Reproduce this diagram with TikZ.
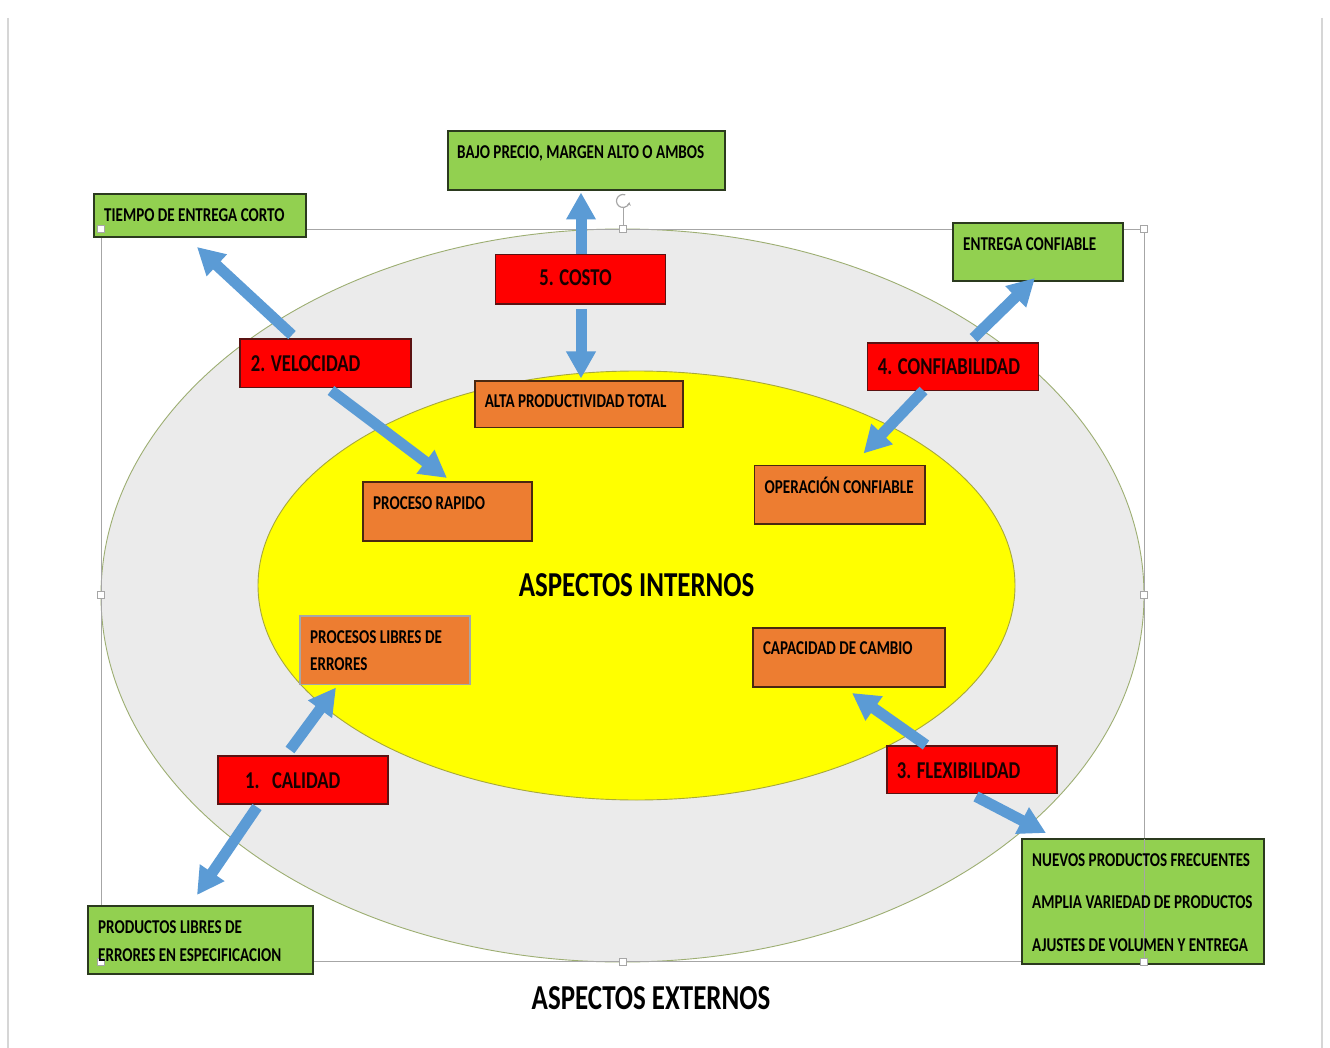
\documentclass[tikz,border=0pt]{standalone}
\usepackage{fontspec}
\setmainfont{Carlito}[FakeStretch=0.77]
\usetikzlibrary{arrows.meta,calc}

\definecolor{gfill}{HTML}{92D050}
\definecolor{gline}{HTML}{2B3A1E}
\definecolor{rfill}{HTML}{FF0000}
\definecolor{rline}{HTML}{5A1212}
\definecolor{ofill}{HTML}{ED7D31}
\definecolor{oline}{HTML}{4A2810}
\definecolor{ablue}{HTML}{5B9BD5}
\definecolor{ringfill}{HTML}{EBEBEB}
\definecolor{ringline}{HTML}{9DAE72}
\definecolor{corefill}{HTML}{FFFF00}
\definecolor{coreline}{HTML}{A7A83C}
\definecolor{selgrey}{HTML}{A6A6A6}
\definecolor{pagegrey}{HTML}{D6D6D6}

\begin{document}
\begin{tikzpicture}[x=1pt,y=-1pt,
  box/.style={draw, line width=1.1pt, inner sep=0pt, outer sep=0pt},
  gbox/.style={box, fill=gfill, draw=gline},
  rbox/.style={box, fill=rfill, draw=rline},
  obox/.style={box, fill=ofill, draw=oline},
  lbl/.style={anchor=base west, inner sep=0pt, font=\bfseries\fontsize{19.6}{22}\selectfont},
  rlbl/.style={anchor=base west, inner sep=0pt, text=black!90!red, font=\bfseries\fontsize{24.2}{28}\selectfont},
  biglbl/.style={anchor=base, inner sep=0pt, font=\bfseries\fontsize{35}{40}\selectfont},
  flow/.style={draw=ablue, line width=11pt, -{Triangle[width=28pt,length=27pt]}},
  selline/.style={draw=selgrey, line width=0.9pt},
  handle/.style={draw=selgrey, fill=white, line width=0.8pt}
]
\useasboundingbox (0,0) rectangle (1330,1048);
\fill[white] (0,0) rectangle (1330,1048);

% page edges
\draw[pagegrey, line width=1.5pt] (8,18) -- (8,1048);
\draw[pagegrey, line width=1.5pt] (1322,18) -- (1322,1048);

% external ring and internal core
\draw[fill=ringfill, draw=ringline, line width=0.9pt]
  (622.5,595.5) ellipse [x radius=521.5pt, y radius=366.5pt];
\draw[fill=corefill, draw=coreline, line width=0.9pt]
  (636.5,585.5) ellipse [x radius=378.5pt, y radius=214.5pt];

% selection frame
\draw[selline] (101,229) rectangle (1144,961.5);
\draw[selgrey, line width=0.9pt] (623,208) -- (623,226);
\draw[selgrey, line width=1.2pt, -{Stealth[length=3.5pt,width=4pt]}]
  (623,201) ++(70:6.5pt) arc[start angle=70, end angle=350, radius=6.5pt];

% green boxes: external results
\node[gbox, minimum width=277pt, minimum height=59pt] (bajo) at (586.5,160.5) {};
\node[gbox, minimum width=212pt, minimum height=43pt] (tiempo) at (200,215.5) {};
\node[gbox, minimum width=170pt, minimum height=58pt] (entrega) at (1038,252) {};
\node[gbox, minimum width=225pt, minimum height=68pt] (productos) at (200.5,940) {};
\node[gbox, minimum width=242pt, minimum height=125pt] (nuevos) at (1143,901.5) {};

% red boxes: competitive priorities
\node[rbox, minimum width=170pt, minimum height=49.5pt] (costo) at (580.5,279.25) {};
\node[rbox, minimum width=171pt, minimum height=48.5pt] (velocidad) at (325.5,363.25) {};
\node[rbox, minimum width=171pt, minimum height=47.5pt] (confiab) at (953,366.75) {};
\node[rbox, minimum width=170pt, minimum height=48pt] (calidad) at (303,780) {};
\node[rbox, minimum width=170pt, minimum height=47.5pt] (flex) at (972,769.75) {};

% orange boxes: internal results
\node[obox, minimum width=208pt, minimum height=46.5pt] (alta) at (579,404.25) {};
\node[obox, minimum width=169pt, minimum height=59pt] (proceso) at (447.5,511.5) {};
\node[obox, minimum width=170.5pt, minimum height=58.5pt] (operacion) at (839.75,494.75) {};
\node[obox, draw=selgrey, minimum width=170pt, minimum height=68.5pt] (procesos) at (385,650.25) {};
\node[obox, minimum width=192pt, minimum height=59pt] (capacidad) at (849,657.5) {};

% frame line and handles lying over the boxes
\draw[selline] (1144,839) -- (1144,961.5);
\foreach \p in {(101,229),(622.5,229),(1144,229),(101,595),(1144,595),(101,961.5),(622.5,961.5),(1144,961.5)}
  \draw[handle] \p ++(-3.5,-3.5) rectangle ++(7,7);

% labels
\node[lbl] (t-bajo) at ($(bajo.north west)+(9,27.3)$) {BAJO PRECIO, MARGEN ALTO O AMBOS};
\node[lbl] (t-tiempo) at ($(tiempo.north west)+(10,27.7)$) {TIEMPO DE ENTREGA CORTO};
\node[lbl] (t-entrega) at ($(entrega.north west)+(10,27.5)$) {ENTREGA CONFIABLE};
\node[lbl] (t-prod1) at ($(productos.north west)+(10,27.5)$) {PRODUCTOS LIBRES DE};
\node[lbl] (t-prod2) at ($(productos.north west)+(10,55)$) {ERRORES EN ESPECIFICACION};
\node[lbl] (t-nuev1) at ($(nuevos.north west)+(10,27)$) {NUEVOS PRODUCTOS FRECUENTES};
\node[lbl] (t-nuev2) at ($(nuevos.north west)+(10,69.5)$) {AMPLIA VARIEDAD DE PRODUCTOS};
\node[lbl] (t-nuev3) at ($(nuevos.north west)+(10,112.5)$) {AJUSTES DE VOLUMEN Y ENTREGA};

\node[rlbl, anchor=base] (t-costo) at ($(costo.north)+(-5,31.4)$) {5. COSTO};
\node[rlbl] (t-vel) at ($(velocidad.north west)+(10.7,32.4)$) {2. VELOCIDAD};
\node[rlbl] (t-conf) at ($(confiab.north west)+(10.2,31.8)$) {4. CONFIABILIDAD};
\node[rlbl] (t-cal) at ($(calidad.north west)+(27,32.4)$) {1.\hspace{12.4pt}CALIDAD};
\node[rlbl] (t-flex) at ($(flex.north west)+(9.7,32.3)$) {3. FLEXIBILIDAD};

\node[lbl] (t-alta) at ($(alta.north west)+(9.6,26.3)$) {ALTA PRODUCTIVIDAD TOTAL};
\node[lbl] (t-proceso) at ($(proceso.north west)+(10,27.5)$) {PROCESO RAPIDO};
\node[lbl] (t-oper) at ($(operacion.north west)+(10,27.6)$) {OPERACIÓN CONFIABLE};
\node[lbl] (t-procs1) at ($(procesos.north west)+(10,27.3)$) {PROCESOS LIBRES DE};
\node[lbl] (t-procs2) at ($(procesos.north west)+(10,54.7)$) {ERRORES};
\node[lbl] (t-capac) at ($(capacidad.north west)+(9.8,26.7)$) {CAPACIDAD DE CAMBIO};

\node[biglbl] (internos) at (636.6,596) {ASPECTOS INTERNOS};
\node[biglbl] (externos) at (651,1009) {ASPECTOS EXTERNOS};

% arrows from each priority to its internal and external results
\draw[flow] ($(costo.north)+(0.5,0)$) -- ($(costo.north |- bajo.south)+(0.5,2.5)$);
\draw[flow] ($(costo.south)+(0.5,5)$) -- ($(costo.south |- alta.north)+(0.5,-2.5)$);
\draw[flow] ($(velocidad.north west)+(52,-4)$) -- ($(tiempo.south west)+(103,10)$);
\draw[flow] ($(velocidad.south west)+(91,3)$) -- ($(proceso.north west)+(84,-4)$);
\draw[flow] ($(confiab.north west)+(106,-5)$) -- ($(entrega.south west)+(82,-3)$);
\draw[flow] ($(confiab.south west)+(56,0)$) -- ($(operacion.north west)+(109,-12)$);
\draw[flow] ($(calidad.north west)+(72,-6)$) -- ($(procesos.south west)+(36,3)$);
\draw[flow] ($(calidad.south west)+(39,3)$) -- ($(productos.north west)+(109,-11)$);
\draw[flow] ($(flex.north west)+(39,-1)$) -- ($(capacidad.south west)+(99,6)$);
\draw[flow] ($(flex.south west)+(89,3)$) -- ($(nuevos.north west)+(24,-6)$);
\end{tikzpicture}
\end{document}
